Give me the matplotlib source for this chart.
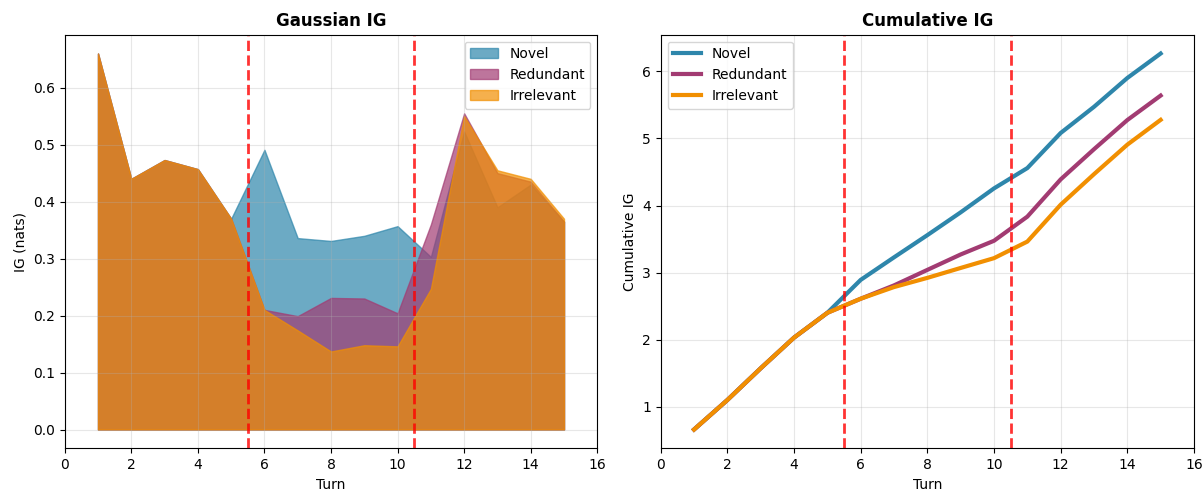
import matplotlib
matplotlib.use("Agg")
import matplotlib.pyplot as plt
import numpy as np

turns = list(range(1, 16))
novel = [0.66, 0.44, 0.473, 0.457, 0.37, 0.491, 0.336, 0.331, 0.34, 0.357, 0.303, 0.523, 0.39, 0.43, 0.365]
redundant = [0.66, 0.44, 0.473, 0.457, 0.37, 0.21, 0.199, 0.231, 0.23, 0.204, 0.36, 0.555, 0.45, 0.435, 0.365]
irrelevant = [0.66, 0.44, 0.473, 0.457, 0.37, 0.21, 0.174, 0.137, 0.148, 0.146, 0.247, 0.55, 0.455, 0.44, 0.37]
labels = ["Novel", "Redundant", "Irrelevant"]
colors = ["#2E86AB", "#A23B72", "#F18F01"]
boundaries = [5.5, 10.5]

fig = plt.figure(figsize=(12.03, 4.91), dpi=100)
ax1 = fig.add_axes([0.0538, 0.0869, 0.4427, 0.8424])
ax2 = fig.add_axes([0.5492, 0.0869, 0.4433, 0.8424])
series = [novel, redundant, irrelevant]
for s, lab, c in zip(series, labels, colors):
    ax1.fill_between(turns, 0, s, alpha=0.7, color=c, label=lab)
for b in boundaries:
    ax1.axvline(b, color="red", linestyle="--", linewidth=2, alpha=0.8)
ax1.set_title("Gaussian IG", fontweight="bold", fontsize=12)
ax1.set_xlabel("Turn")
ax1.set_ylabel("IG (nats)")
ax1.set_xlim(0, 16)
ax1.legend(loc="upper right")
ax1.grid(True, alpha=0.3)

for s, lab, c in zip(series, labels, colors):
    ax2.plot(turns, np.cumsum(s), color=c, linewidth=3, label=lab)
for b in boundaries:
    ax2.axvline(b, color="red", linestyle="--", linewidth=2, alpha=0.8)
ax2.set_title("Cumulative IG", fontweight="bold", fontsize=12)
ax2.set_xlabel("Turn")
ax2.set_ylabel("Cumulative IG")
ax2.set_xlim(0, 16)
ax2.legend(loc="upper left")
ax2.grid(True, alpha=0.3)

fig.savefig("out.png", dpi=100)
